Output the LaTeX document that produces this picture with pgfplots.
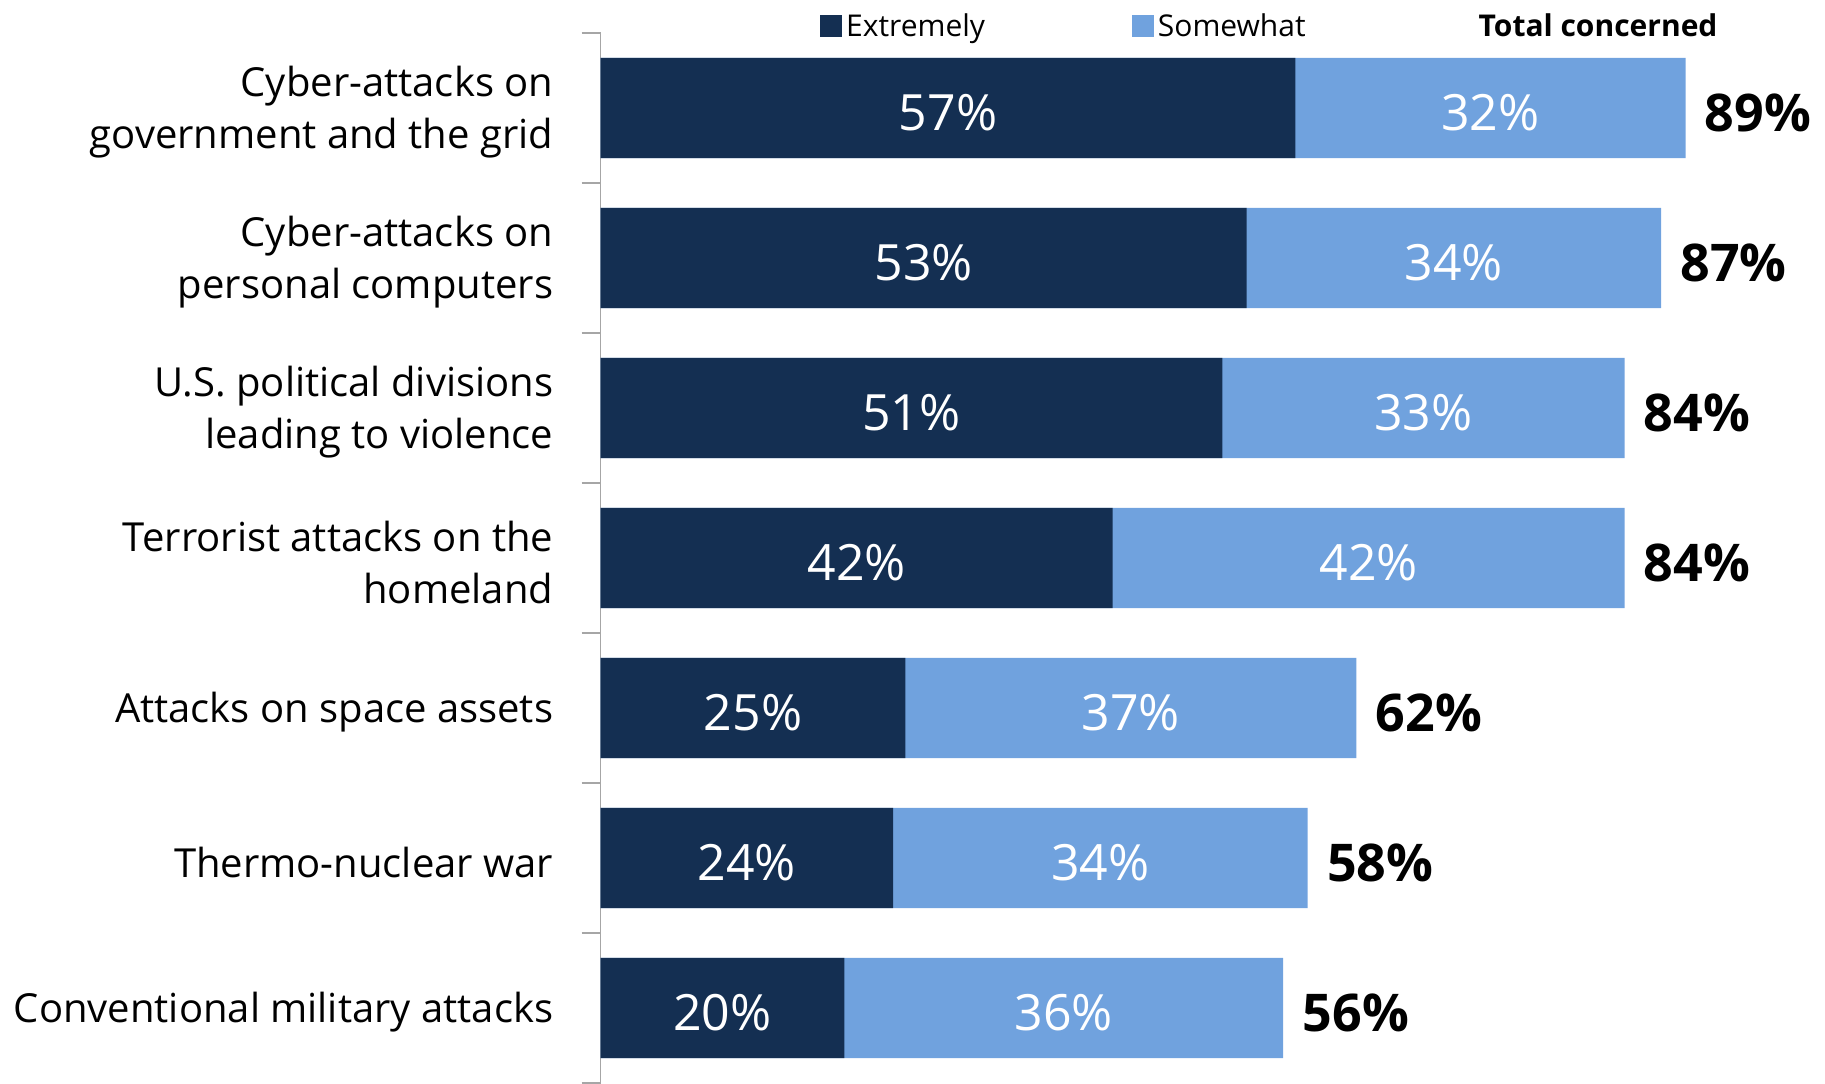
\documentclass[border=0pt]{standalone}
\usepackage{fontspec}
\setmainfont{Open Sans}
\usepackage{pgfplots}
\usepackage{pgfplotstable}
\pgfplotsset{compat=1.18}

\definecolor{extr}{HTML}{142F52}
\definecolor{some}{HTML}{70A2DE}
\definecolor{axgray}{HTML}{A6A6A6}

% extremely / somewhat / total concerned, top row first
\pgfplotstableread{
idx ext som tot
0 57 32 89
1 53 34 87
2 51 33 84
3 42 42 84
4 25 37 62
5 24 34 58
6 20 36 56
}\data

\begin{document}
\begin{tikzpicture}
\useasboundingbox (0,0) rectangle (912.5pt,541.5pt);
\begin{axis}[
    at={(300.3pt,0pt)}, anchor=south west,
    scale only axis,
    width=609.5pt, height=525pt,
    xmin=0, xmax=100,
    ymin=-0.5, ymax=6.5,
    y dir=reverse,
    axis x line=none,
    axis y line*=left,
    y axis line style={-, draw=axgray, line width=0.7pt},
    ytick={0,...,6},
    yticklabels={
        {Cyber-attacks on\\government and the grid},
        {Cyber-attacks on\\personal computers},
        {U.S. political divisions\\leading to violence},
        {Terrorist attacks on the\\homeland},
        {Attacks on space assets},
        {Thermo-nuclear war},
        {Conventional military attacks}},
    minor ytick={-0.5,0.5,...,6.5},
    major tick length=0pt,
    minor tick length=9.5pt,
    tick align=outside,
    minor tick style={draw=axgray, line width=0.7pt},
    y tick label style={align=right, font=\fontsize{20pt}{26pt}\selectfont,
        inner sep=0pt, xshift=-23.5pt, yshift=-2pt},
    clip=false,
    legend columns=3,
    legend style={draw=none, fill=none, at={(0.180,1.0065)}, anchor=west,
        inner sep=0pt, font=\fontsize{15pt}{18pt}\selectfont,
        /tikz/every even column/.append style={column sep=71.5pt}},
    legend cell align=left,
]

% light bar runs to the total, dark bar on top of it
\addplot[forget plot, xbar, bar width=0.667, bar shift=0pt, fill=some, draw=none]
    table[x=tot, y=idx]{\data};
\addplot[forget plot, xbar, bar width=0.667, bar shift=0pt, fill=extr, draw=none]
    table[x=ext, y=idx]{\data};

% labels inside the segments
\addplot[forget plot, draw=none, mark=none, point meta=explicit symbolic,
    nodes near coords={\pgfplotspointmeta\%},
    nodes near coords style={anchor=center, yshift=-2.3pt, text=white, font=\fontsize{25pt}{30pt}\selectfont}]
    table[x expr=\thisrow{ext}/2, y=idx, meta=ext]{\data};
\addplot[forget plot, draw=none, mark=none, point meta=explicit symbolic,
    nodes near coords={\pgfplotspointmeta\%},
    nodes near coords style={anchor=center, yshift=-2.3pt, text=white, font=\fontsize{25pt}{30pt}\selectfont}]
    table[x expr=\thisrow{ext}+\thisrow{som}/2, y=idx, meta=som]{\data};
% totals
\addplot[forget plot, draw=none, mark=none, point meta=explicit symbolic,
    nodes near coords={\pgfplotspointmeta\%},
    nodes near coords style={anchor=west, xshift=9.5pt, yshift=-2.3pt, inner sep=0pt, text=black,
        font=\bfseries\fontsize{26pt}{30pt}\selectfont}]
    table[x=tot, y=idx, meta=tot]{\data};

\addlegendimage{legend image code/.code={\fill[extr] (-2pt,-5.25pt) rectangle (8.5pt,5.25pt);}}
\addlegendentry{Extremely}
\addlegendimage{legend image code/.code={\fill[some] (-2pt,-5.25pt) rectangle (8.5pt,5.25pt);}}
\addlegendentry{Somewhat}
\addlegendimage{empty legend}
\addlegendentry{\hspace*{11pt}\textbf{Total concerned}}
\end{axis}
\end{tikzpicture}
\end{document}
